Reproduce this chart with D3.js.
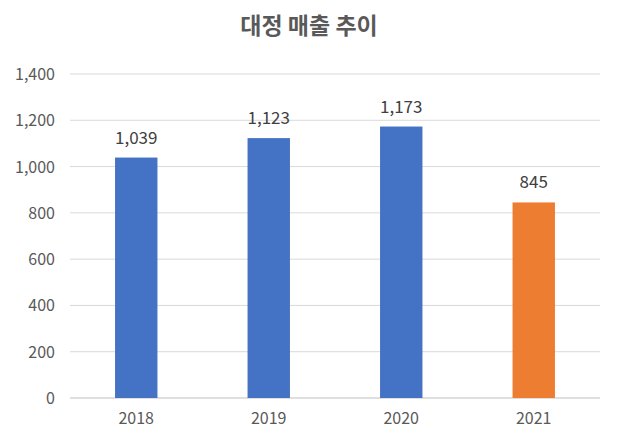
<!DOCTYPE html>
<html><head><meta charset="utf-8">
<script src="https://cdn.jsdelivr.net/npm/d3@7"></script>
<style>body{margin:0;background:#fff}</style></head>
<body><svg id="c" width="618" height="438"></svg>
<script>
const categories=["2018","2019","2020","2021"];
const values=[1039,1123,1173,845];
const colors=["#4472C4","#4472C4","#4472C4","#ED7D31"];
const yTicks=[0,200,400,600,800,1000,1200,1400];
const title="대정 매출 추이";
const svg=d3.select("#c");
const font="'Noto Sans CJK KR','Noto Sans',sans-serif";
const x=d3.scaleBand().domain(categories).range([70,600]).paddingInner(0.68).paddingOuter(0.34);
const y=d3.scaleLinear().domain([0,1400]).range([398,74]);
svg.append("text").attr("x",309).attr("y",34).attr("text-anchor","middle").attr("font-family",font).attr("font-weight","bold").attr("font-size",23).attr("fill","#595959").text(title);
svg.selectAll(".g").data(yTicks).enter().append("line").attr("x1",70).attr("x2",600).attr("y1",d=>y(d)).attr("y2",d=>y(d)).attr("stroke",d=>d===0?"#bfbfbf":"#d9d9d9").attr("stroke-width",1);
svg.selectAll(".yt").data(yTicks).enter().append("text").attr("x",55).attr("y",d=>y(d)+6).attr("text-anchor","end").attr("font-family",font).attr("font-size",16).attr("fill","#595959").text(d=>d3.format(",")(d));
svg.selectAll(".b").data(values).enter().append("rect").attr("x",(d,i)=>x(categories[i])).attr("width",x.bandwidth()).attr("y",d=>y(d)).attr("height",d=>y(0)-y(d)).attr("fill",(d,i)=>colors[i]);
svg.selectAll(".v").data(values).enter().append("text").attr("x",(d,i)=>x(categories[i])+x.bandwidth()/2).attr("y",d=>y(d)-14).attr("text-anchor","middle").attr("font-family",font).attr("font-size",17).attr("fill","#404040").text(d=>d3.format(",")(d));
svg.selectAll(".xt").data(categories).enter().append("text").attr("x",d=>x(d)+x.bandwidth()/2).attr("y",424).attr("text-anchor","middle").attr("font-family",font).attr("font-size",16).attr("fill","#595959").text(d=>d);
</script></body></html>
